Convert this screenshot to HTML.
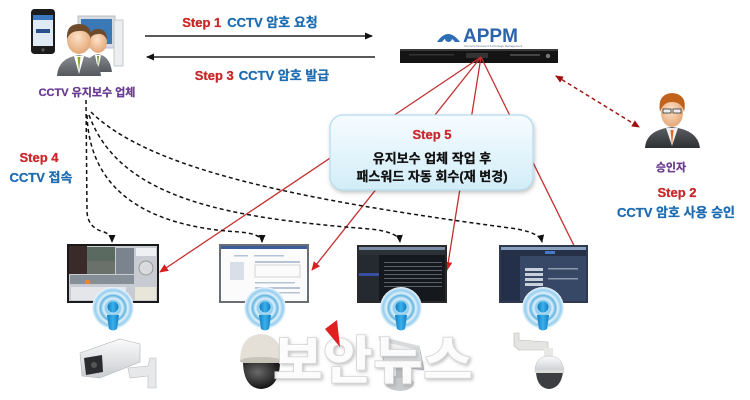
<!DOCTYPE html>
<html><head><meta charset="utf-8">
<style>
html,body{margin:0;padding:0;background:#fff;}
svg{display:block;}
text{font-family:"Liberation Sans","Noto Sans CJK KR",sans-serif;font-weight:bold;}
</style></head>
<body>
<svg width="750" height="400" viewBox="0 0 750 400" xmlns="http://www.w3.org/2000/svg">
<defs>
  <marker id="ab" markerWidth="8" markerHeight="8" refX="7" refY="4" orient="auto" markerUnits="userSpaceOnUse">
    <path d="M0,0.5 L8,4 L0,7.5 Z" fill="#111"/>
  </marker>
  <marker id="ar" markerWidth="9" markerHeight="9" refX="8" refY="4.5" orient="auto" markerUnits="userSpaceOnUse">
    <path d="M0,0.5 L9,4.5 L0,8.5 Z" fill="#d42020"/>
  </marker>
  <marker id="ad" markerWidth="8" markerHeight="8" refX="7" refY="4" orient="auto-start-reverse" markerUnits="userSpaceOnUse">
    <path d="M0,0.5 L8,4 L0,7.5 Z" fill="#a01010"/>
  </marker>
  <linearGradient id="boxg" x1="0" y1="0" x2="0" y2="1">
    <stop offset="0" stop-color="#f6fcff"/>
    <stop offset="1" stop-color="#d2edf8"/>
  </linearGradient>
  <radialGradient id="wifi" cx="0.5" cy="0.5" r="0.5">
    <stop offset="0" stop-color="#ffffff"/>
    <stop offset="0.35" stop-color="#8ccaec"/>
    <stop offset="0.45" stop-color="#e0f2fb"/>
    <stop offset="0.6" stop-color="#62b4e2"/>
    <stop offset="0.7" stop-color="#e2f2fa"/>
    <stop offset="0.85" stop-color="#94cdee"/>
    <stop offset="1" stop-color="#f2f9fd"/>
  </radialGradient>
  <linearGradient id="wbody" x1="0" y1="0" x2="1" y2="0">
    <stop offset="0" stop-color="#0f7fc4"/>
    <stop offset="0.5" stop-color="#3cb0ea"/>
    <stop offset="1" stop-color="#0f7fc4"/>
  </linearGradient>
  <linearGradient id="suit" x1="0" y1="0" x2="0" y2="1">
    <stop offset="0" stop-color="#8a8e92"/>
    <stop offset="1" stop-color="#55595d"/>
  </linearGradient>
  <linearGradient id="dsuit" x1="0" y1="0" x2="0" y2="1">
    <stop offset="0" stop-color="#5c5f63"/>
    <stop offset="1" stop-color="#2e3033"/>
  </linearGradient>
  <radialGradient id="skin" cx="0.45" cy="0.4" r="0.6">
    <stop offset="0" stop-color="#fde2c8"/>
    <stop offset="1" stop-color="#e4a878"/>
  </radialGradient>
  <linearGradient id="camw" x1="0" y1="0" x2="0" y2="1">
    <stop offset="0" stop-color="#fbfbfb"/>
    <stop offset="1" stop-color="#c9ccd0"/>
  </linearGradient>
  <radialGradient id="dome" cx="0.4" cy="0.35" r="0.7">
    <stop offset="0" stop-color="#6a6a6a"/>
    <stop offset="1" stop-color="#0c0c0c"/>
  </radialGradient>
  <filter id="sh" x="-10%" y="-10%" width="130%" height="140%">
    <feDropShadow dx="1" dy="2" stdDeviation="2" flood-color="#000" flood-opacity="0.25"/>
  </filter>
  <filter id="wm" x="-10%" y="-20%" width="130%" height="150%">
    <feDropShadow dx="1.5" dy="1.5" stdDeviation="1.5" flood-color="#888" flood-opacity="0.55"/>
  </filter>
</defs>

<!-- ===== Top-left: phone, people, computer ===== -->
<rect x="31" y="9" width="24" height="45" rx="3.5" fill="#1c1c1c"/>
<rect x="33" y="15" width="20" height="31" fill="#dfeaf5"/>
<rect x="33" y="15" width="20" height="5" fill="#3a78c0"/>
<rect x="36" y="29" width="14" height="4" fill="#2a4f8a"/>
<circle cx="43" cy="50" r="1.6" fill="#555"/>
<rect x="78" y="16" width="37" height="32" fill="#d7dbe0" stroke="#b8bcc2"/>
<rect x="81" y="19" width="31" height="25" fill="#3b78b8"/>
<rect x="114" y="20" width="9" height="46" fill="#eceef0" stroke="#c4c8cc"/>
<path d="M84,72 Q86,56 98,54 Q110,56 112,72 Z" fill="url(#suit)"/>
<ellipse cx="98" cy="42" rx="9" ry="11" fill="url(#skin)"/>
<path d="M89,40 Q89,29 98,29 Q107,29 107,40 Q104,33 98,34 Q92,34 89,40 Z" fill="#6a4a2b"/>
<path d="M95,55 L98,70 L101,55 Z" fill="#fff"/>
<path d="M97,56 L98,67 L99,56 Z" fill="#7a9b2a"/>
<path d="M57,76 Q58,58 79,55 Q100,58 101,76 Z" fill="url(#suit)"/>
<path d="M74,56 L79,74 L84,56 Z" fill="#fff"/>
<path d="M77.5,57 L79,72 L80.5,57 Z" fill="#8aa82a"/>
<ellipse cx="79" cy="40" rx="12" ry="14" fill="url(#skin)"/>
<path d="M67,39 Q66,24 79,24 Q92,24 91,39 Q88,30 79,31 Q70,31 67,39 Z" fill="#6e4b2a"/>
<text x="87" y="96" font-size="11" fill="#6b3d92" stroke="#6b3d92" stroke-width="0.3" text-anchor="middle">CCTV 유지보수 업체</text>

<!-- ===== Step 1 / Step 3 arrows ===== -->
<text x="250" y="27" font-size="13" text-anchor="middle"><tspan fill="#c8282a" stroke="#c8282a" stroke-width="0.3">Step 1</tspan><tspan fill="#1e6db2" stroke="#1e6db2" stroke-width="0.3" dx="6">CCTV 암호 요청</tspan></text>
<line x1="145" y1="36" x2="372" y2="36" stroke="#222" stroke-width="1.4" marker-end="url(#ab)"/>
<line x1="375" y1="57" x2="147" y2="57" stroke="#222" stroke-width="1.4" marker-end="url(#ab)"/>
<text x="262" y="80" font-size="13" text-anchor="middle"><tspan fill="#c8282a" stroke="#c8282a" stroke-width="0.3">Step 3</tspan><tspan fill="#1e6db2" stroke="#1e6db2" stroke-width="0.3" dx="5">CCTV 암호 발급</tspan></text>

<!-- ===== APPM ===== -->
<path d="M437,42 Q448,26 460,42 L455,42 Q448,33 442,42 Z" fill="#2d6fb5"/>
<circle cx="448.5" cy="38.5" r="3.5" fill="#2d6fb5"/>
<text x="463" y="42" font-size="19" fill="#2a63ad" font-family="Liberation Sans,sans-serif" style="font-weight:bold">APPM</text>
<text x="464" y="47" font-size="3" fill="#6a7a90" style="font-weight:normal">Account Password &amp; Privilege Management</text>
<rect x="400" y="49" width="158" height="14" fill="#141414"/>
<rect x="400" y="49" width="158" height="2" fill="#3a3a3a"/>
<rect x="466" y="53" width="22" height="5" fill="#333"/>
<rect x="510" y="54" width="30" height="2" fill="#444"/>
<circle cx="548" cy="56" r="2.2" fill="#777"/>
<rect x="409" y="54" width="45" height="1.5" fill="#333"/>

<!-- ===== Red lines from server ===== -->
<g stroke="#c43030" stroke-width="1.3" fill="none">
  <line x1="481" y1="57" x2="160" y2="272" marker-end="url(#ar)"/>
  <line x1="481" y1="57" x2="312" y2="270" marker-end="url(#ar)"/>
  <line x1="481" y1="57" x2="447" y2="270" marker-end="url(#ar)"/>
  <line x1="481" y1="57" x2="587" y2="272" marker-end="url(#ar)"/>
</g>

<!-- ===== Step 5 box ===== -->
<rect x="330" y="115" width="203" height="75" rx="13" fill="url(#boxg)" stroke="#b4dcef" stroke-width="1.2" filter="url(#sh)"/>
<text x="432" y="139" font-size="13" fill="#c8282a" stroke="#c8282a" stroke-width="0.3" text-anchor="middle">Step 5</text>
<text x="432" y="163" font-size="13" fill="#111" stroke="#111" stroke-width="0.3" text-anchor="middle">유지보수 업체 작업 후</text>
<text x="432" y="181" font-size="13" fill="#111" stroke="#111" stroke-width="0.3" text-anchor="middle">패스워드 자동 회수(재 변경)</text>

<!-- ===== Approver ===== -->
<line x1="556" y1="76" x2="639" y2="127" stroke="#a01818" stroke-width="1.5" stroke-dasharray="4,3" marker-start="url(#ad)" marker-end="url(#ad)"/>
<path d="M645,148 Q646,130 672,127 Q698,130 700,148 Z" fill="url(#dsuit)"/>
<path d="M666,128 L672,146 L678,128 Z" fill="#f0f0f0"/>
<path d="M670.5,130 L672,146 L673.5,130 Z" fill="#e06a20"/>
<ellipse cx="672" cy="113" rx="11" ry="14" fill="url(#skin)"/>
<path d="M660,112 Q657,94 672,93 Q688,94 684,112 Q682,102 672,102 Q663,102 660,112 Z" fill="#c0621c"/>
<rect x="663" y="109" width="8" height="4" fill="#eee" stroke="#333" stroke-width="0.8"/>
<rect x="673" y="109" width="8" height="4" fill="#eee" stroke="#333" stroke-width="0.8"/>
<text x="671" y="171" font-size="11" fill="#6b3d92" stroke="#6b3d92" stroke-width="0.3" text-anchor="middle">승인자</text>
<text x="677" y="197" font-size="13" fill="#c8282a" stroke="#c8282a" stroke-width="0.3" text-anchor="middle">Step 2</text>
<text x="676" y="217" font-size="13" fill="#1e6db2" stroke="#1e6db2" stroke-width="0.3" text-anchor="middle">CCTV 암호 사용 승인</text>

<!-- ===== Step 4 ===== -->
<text x="39" y="162" font-size="13" fill="#c8282a" stroke="#c8282a" stroke-width="0.3" text-anchor="middle">Step 4</text>
<text x="41" y="182" font-size="13" fill="#1e6db2" stroke="#1e6db2" stroke-width="0.3" text-anchor="middle">CCTV 접속</text>

<!-- ===== Dashed connectors ===== -->
<g stroke="#111" stroke-width="1.5" stroke-dasharray="4,3" fill="none">
  <path d="M86,100 L87,212 Q88,228 104,232 Q112,235 112,242" marker-end="url(#ab)"/>
  <path d="M87,115 C90,205 170,228 240,232 Q262,234 262,242" marker-end="url(#ab)"/>
  <path d="M89,115 C120,200 230,218 370,229 Q399,232 400,242" marker-end="url(#ab)"/>
  <path d="M91,112 C150,170 300,200 510,228 Q540,232 542,242" marker-end="url(#ab)"/>
</g>

<!-- ===== Screens ===== -->
<rect x="67" y="244" width="92" height="59" fill="#1a1a1a"/>
<rect x="69" y="246" width="88" height="55" fill="#c8ccd2"/>
<rect x="69" y="246" width="18" height="28" fill="#3a2a2a"/>
<rect x="87" y="247" width="28" height="14" fill="#5a6a60"/>
<rect x="87" y="261" width="28" height="13" fill="#6a706a"/>
<g fill="#5a6470">
  <rect x="116" y="248" width="18" height="26" opacity="0.7"/>
  <rect x="70" y="275" width="64" height="9" opacity="0.6"/>
</g>
<rect x="136" y="248" width="20" height="8" fill="#eef0f4"/>
<circle cx="146" cy="268" r="7" fill="#d8dadc" stroke="#999"/>
<rect x="71" y="287" width="55" height="13" fill="#e4e6ea"/>
<rect x="135" y="287" width="21" height="13" fill="#e8e6d8"/>
<rect x="85" y="280" width="5" height="4" fill="#e08a30"/>
<rect x="219" y="244" width="90" height="59" fill="#6b6f75"/>
<rect x="221" y="248" width="86" height="53" fill="#fbfbfb"/>
<rect x="221" y="246" width="86" height="3" fill="#3d5d9a"/>
<g fill="#b8c4d6">
  <rect x="234" y="255" width="14" height="1.5"/><rect x="254" y="255" width="30" height="1.5"/>
  <rect x="255" y="261" width="45" height="2"/><rect x="255" y="265" width="45" height="12" fill="none" stroke="#bbb" stroke-width="0.6"/>
  <rect x="255" y="282" width="40" height="1.5"/><rect x="255" y="287" width="45" height="2"/>
  <rect x="255" y="292" width="45" height="1.5"/><rect x="230" y="262" width="14" height="18" opacity="0.5"/>
</g>
<rect x="357" y="245" width="90" height="58" fill="#2a2a2a"/>
<rect x="359" y="249" width="86" height="52" fill="#15181d"/>
<rect x="359" y="247" width="86" height="3" fill="#7a8ca8"/>
<rect x="359" y="250" width="86" height="5" fill="#2c3138"/>
<rect x="359" y="255" width="20" height="46" fill="#252a31"/>
<rect x="359" y="273" width="20" height="3" fill="#3a4fa0"/>
<g fill="#5a6068">
  <rect x="384" y="262" width="58" height="1"/><rect x="384" y="266" width="58" height="1"/>
  <rect x="384" y="270" width="58" height="1"/><rect x="384" y="274" width="58" height="1"/>
  <rect x="384" y="278" width="58" height="1"/><rect x="384" y="282" width="58" height="1"/>
  <rect x="384" y="286" width="58" height="1"/>
</g>
<rect x="499" y="245" width="89" height="58" fill="#2f3a4f"/>
<rect x="501" y="249" width="85" height="52" fill="#364866"/>
<rect x="501" y="247" width="85" height="3" fill="#8aa0c0"/>
<rect x="501" y="250" width="85" height="6" fill="#253047"/>
<rect x="501" y="256" width="19" height="45" fill="#243049"/>
<rect x="545" y="251" width="10" height="3" fill="#4a78c8"/>
<g fill="#c8d0dc">
  <rect x="525" y="268" width="18" height="3"/><rect x="525" y="273" width="18" height="3"/>
  <rect x="525" y="278" width="18" height="3"/><rect x="525" y="283" width="18" height="3"/>
  <rect x="548" y="268" width="30" height="1.5" opacity="0.6"/><rect x="548" y="278" width="30" height="1.5" opacity="0.6"/>
</g>

<!-- ===== WiFi icons ===== -->
<g>
  <circle cx="113" cy="308" r="21" fill="url(#wifi)"/>
  <circle cx="265" cy="308" r="21" fill="url(#wifi)"/>
  <circle cx="401" cy="308" r="21" fill="url(#wifi)"/>
  <circle cx="543" cy="308" r="21" fill="url(#wifi)"/>
</g>
<g fill="url(#wbody)">
  <circle cx="113" cy="307" r="5.5"/><path d="M107,315 L119,315 L117,329 Q113,332 109,329 Z"/>
  <circle cx="265" cy="307" r="5.5"/><path d="M259,315 L271,315 L269,329 Q265,332 261,329 Z"/>
  <circle cx="401" cy="307" r="5.5"/><path d="M395,315 L407,315 L405,329 Q401,332 397,329 Z"/>
  <circle cx="543" cy="307" r="5.5"/><path d="M537,315 L549,315 L547,329 Q543,332 539,329 Z"/>
</g>

<!-- ===== Cameras ===== -->
<path d="M128,368 L148,366 L150,358 L156,358 L156,388 L148,388 L148,376 L130,378 Z" fill="#e6e8ea" stroke="#b8bcc0" stroke-width="0.6"/>
<path d="M80,353 L120,339 L140,344 L140,362 L100,378 L82,376 Z" fill="url(#camw)" stroke="#b0b4b8" stroke-width="0.6"/>
<path d="M84,358 L102,355 L103,372 L86,375 Z" fill="#2a2c30"/>
<circle cx="94" cy="365" r="3" fill="#555"/>
<path d="M240,362 Q240,335 261,334 Q282,335 282,362 Z" fill="#e4e0d8"/>
<ellipse cx="261" cy="361" rx="21" ry="4" fill="#c8c3b8"/>
<path d="M243,363 Q244,388 261,389 Q279,388 280,363 Z" fill="url(#dome)"/>
<path d="M384,382 Q386,390 400,391 Q414,390 414,382 L408,376 L392,376 Z" fill="#c8cacc"/>
<rect x="396" y="366" width="7" height="12" fill="#b8babc"/>
<path d="M380,340 L420,350 L424,370 L384,364 Z" fill="url(#camw)" stroke="#9a9ea2" stroke-width="0.6"/>
<path d="M378,336 L420,346 L420,350 L380,341 Z" fill="#d8dadc"/>
<path d="M514,346 L514,333 L519,333 L519,340 L548,342 L548,350 L519,350 Z" fill="#e4e4e2" stroke="#b8b8b4" stroke-width="0.6"/>
<rect x="544" y="348" width="9" height="10" fill="#e8e8e6"/>
<path d="M535,372 Q535,356 549,356 Q563,356 564,372 Z" fill="url(#camw)" stroke="#bbb" stroke-width="0.5"/>
<path d="M536,372 Q537,388 549,389 Q561,388 563,372 Z" fill="#3c3e42"/>
<rect x="535" y="370" width="29" height="3" fill="#dcdcda"/>

<!-- ===== Watermark ===== -->
<text x="273" y="379" font-size="52" textLength="200" lengthAdjust="spacingAndGlyphs" fill="#ffffff" fill-opacity="0.92" stroke="#d4d4d4" stroke-width="0.8" filter="url(#wm)" style="font-family:'Noto Sans CJK KR','Liberation Sans',sans-serif;font-weight:900">보안뉴스</text>
<path d="M325,329 L337,320 L340,347 Z" fill="#e02020"/>
</svg>
</body></html>
